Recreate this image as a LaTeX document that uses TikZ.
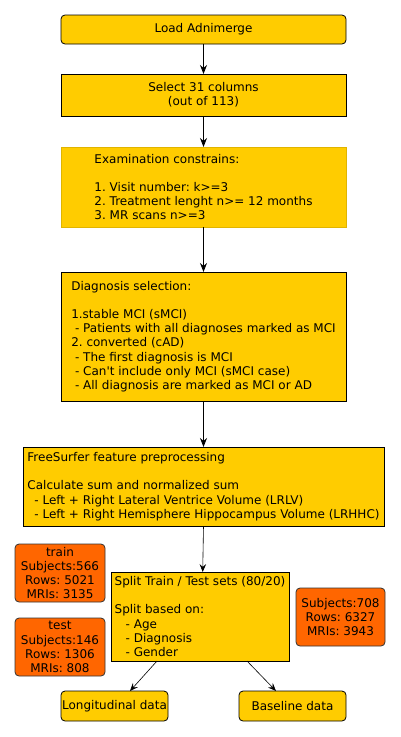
\documentclass[tikz,border=0pt]{standalone}
\usepackage{fontspec}
\setmainfont{DejaVu Sans}[Ligatures=TeXOff]
\usetikzlibrary{arrows.meta}
\definecolor{boxyellow}{HTML}{FFCC00}
\definecolor{boxorange}{HTML}{FF6600}
\definecolor{goldedge}{HTML}{E0B400}
\frenchspacing
\begin{document}
\begin{tikzpicture}[x=1pt,y=-1pt,
  every node/.style={font=\fontsize{12}{14.2}\selectfont\frenchspacing, inner sep=0pt, outer sep=0pt},
  ybox/.style={draw=black, line width=0.8pt, fill=boxyellow, align=left},
  rbox/.style={ybox, rounded corners=4pt},
  obox/.style={draw=black!80, line width=0.8pt, fill=boxorange, rounded corners=4pt, align=center, minimum width=90pt, minimum height=58pt},
  flow/.style={line width=0.8pt, -{Stealth[length=9pt,width=7pt,inset=3pt]}},
  thinflow/.style={line width=0.6pt, -{Stealth[length=8pt,width=6.5pt,inset=3pt]}}]
\useasboundingbox (0,0) rectangle (401,737);
\node[rbox, minimum width=285pt, minimum height=29pt] (load) at (203.5,29.5) {Load Adnimerge};
\node[ybox, align=center, minimum width=285pt, minimum height=42pt] (select) at (203.5,95) {Select 31 columns\\(out of 113)};
\node[ybox, draw=goldedge, minimum width=285pt, minimum height=80pt] (exam) at (203.5,187)
  {Examination constrains:\\ \mbox{}\\ 1. Visit number: k>=3\\ 2. Treatment lenght n>= 12 months\\ 3. MR scans n>=3};
\node[ybox, minimum width=285pt, minimum height=129pt] (diag) at (203.5,336.5)
  {Diagnosis selection:\\ \mbox{}\\ 1.stable MCI (sMCI)\\ \hspace{3.8pt}- Patients with all diagnoses marked as MCI\\ 2. converted (cAD)\\ \hspace{3.8pt}- The first diagnosis is MCI\\ \hspace{3.8pt}- Can't include only MCI (sMCI case)\\ \hspace{3.8pt}- All diagnosis are marked as MCI or AD};
\node[ybox, minimum width=361pt, minimum height=79pt] (fs) at (203.5,486.5)
  {FreeSurfer feature preprocessing\\ \mbox{}\\ Calculate sum and normalized sum\\ \hspace{7pt}- Left + Right Lateral Ventrice Volume (LRLV)\\ \hspace{7pt}- Left + Right Hemisphere Hippocampus Volume (LRHHC)};
\node[ybox, minimum width=178pt, minimum height=89pt] (split) at (200,616.5)
  {Split Train / Test sets (80/20)\\ \mbox{}\\ Split based on:\\ \hspace{11pt}- Age\\ \hspace{11pt}- Diagnosis\\ \hspace{11pt}- Gender};
\node[obox] (train) at (60,573) {train\\Subjects:566\\Rows: 5021\\MRIs: 3135};
\node[obox] (test) at (60,647) {test\\Subjects:146\\Rows: 1306\\MRIs: 808};
\node[obox, minimum width=89pt] (total) at (340.5,617) {Subjects:708\\Rows: 6327\\MRIs: 3943};
\node[rbox, minimum width=107pt, minimum height=30pt] (long) at (114.5,706) {Longitudinal data};
\node[rbox, minimum width=107pt, minimum height=30pt] (base) at (292.5,706) {Baseline data};
\draw[flow] (load) -- (select);
\draw[flow] (select) -- (exam);
\draw[flow] (exam) -- (diag);
\draw[flow] (diag) -- (fs);
\draw[thinflow] (fs.south) -- ([xshift=2.7pt]split.north);
\draw[thinflow] ([xshift=-43pt]split.south) -- ([xshift=15.5pt]long.north);
\draw[thinflow] ([xshift=47pt]split.south) -- ([xshift=-16.5pt]base.north);
\end{tikzpicture}
\end{document}
